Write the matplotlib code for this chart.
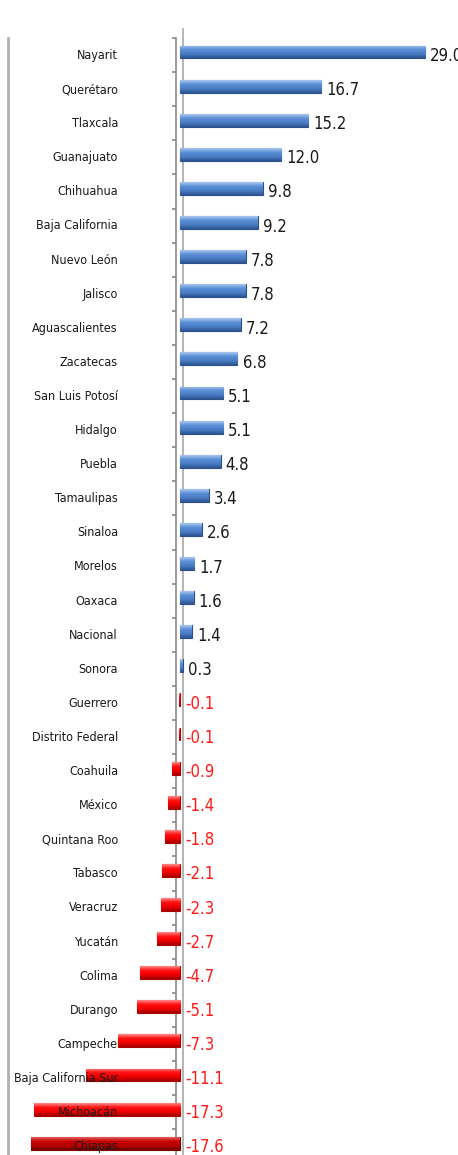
import matplotlib.pyplot as plt
import numpy as np
from matplotlib.colors import LinearSegmentedColormap

estados = ["Nayarit", "Querétaro", "Tlaxcala", "Guanajuato", "Chihuahua",
           "Baja California", "Nuevo León", "Jalisco", "Aguascalientes",
           "Zacatecas", "San Luis Potosí", "Hidalgo", "Puebla", "Tamaulipas",
           "Sinaloa", "Morelos", "Oaxaca", "Nacional", "Sonora", "Guerrero",
           "Distrito Federal", "Coahuila", "México", "Quintana Roo", "Tabasco",
           "Veracruz", "Yucatán", "Colima", "Durango", "Campeche",
           "Baja California Sur", "Michoacán", "Chiapas"]
valores = [29.0, 16.7, 15.2, 12.0, 9.8, 9.2, 7.8, 7.8, 7.2, 6.8, 5.1, 5.1,
           4.8, 3.4, 2.6, 1.7, 1.6, 1.4, 0.3, -0.1, -0.1, -0.9, -1.4, -1.8,
           -2.1, -2.3, -2.7, -4.7, -5.1, -7.3, -11.1, -17.3, -17.6]

plt.rcParams['font.family'] = ['DejaVu Sans']
plt.rcParams['font.stretch'] = 'condensed'

W, H = 458, 1155
fig = plt.figure(figsize=(W / 100, H / 100), dpi=100)
ax = fig.add_axes([0, 0, 1, 1])

# pixel -> data helpers (zero at x=180 px, 8.45 px per unit, rows every 34.1 px)
x0px, kx = 180.0, 8.45
y0px, ky = 52.0, 34.1
def px_x(p):
    return (p - x0px) / kx
def px_y(p):
    return (p - y0px) / ky

azul = LinearSegmentedColormap.from_list("azul", ["#a9c6ee", "#5b8fd6", "#4a7cc4", "#2d5592"])
rojo = LinearSegmentedColormap.from_list("rojo", ["#ff8a8a", "#ff1010", "#f00000", "#a00000"])
rojo2 = LinearSegmentedColormap.from_list("rojo2", ["#e06060", "#c80000", "#b80000", "#700000"])
grad = np.linspace(0, 1, 64).reshape(-1, 1)

y = np.arange(len(estados))
alto = 0.38
bars = ax.barh(y, valores, height=alto, color="none", zorder=3)
for i, (b, v) in enumerate(zip(bars, valores)):
    if v >= 0:
        cm, ec = azul, "#2b4f86"
    elif estados[i] == "Chiapas":
        cm, ec = rojo2, "#7a0000"
    else:
        cm, ec = rojo, "#b00000"
    left = min(0, v)
    right = max(0, v)
    im = ax.imshow(grad, cmap=cm, aspect="auto", origin="upper",
                   extent=(left, right, i + alto / 2, i - alto / 2), zorder=3)
    im.set_clip_path(b)
    b.set_edgecolor(ec)
    b.set_linewidth(0.8)

    if v >= 0:
        ax.text(v + 0.6, i + 0.12, f"{v:.1f}", ha="left", va="center",
                fontsize=12, color="#1a1a1a", zorder=5)
    else:
        ax.text(0.6, i + 0.12, f"{v:.1f}", ha="left", va="center",
                fontsize=12, color="#ff1a1a", zorder=5)
    ax.text(px_x(118), i + 0.1, estados[i], ha="right", va="center",
            fontsize=9, color="#1a1a1a", zorder=6)

ax.set_xlim(px_x(0), px_x(W))
ax.set_ylim(px_y(H), px_y(0))

# lines of the chart frame
ax.plot([px_x(8), px_x(8)], [px_y(38), px_y(H)], color="#b0b0b0", lw=2, zorder=1)
ax.plot([px_x(183), px_x(183)], [px_y(29), px_y(H)], color="#a8a8a8", lw=1.2, zorder=2)
ax.plot([px_x(175.5), px_x(175.5)], [px_y(38), px_y(H)], color="#8a8a8a", lw=1.2, zorder=2)
ticks = np.arange(len(estados) + 1) - 0.41
ax.hlines(ticks, px_x(171.5), px_x(175.5), color="#8a8a8a", lw=1.2, zorder=2)

ax.axis("off")
fig.savefig("out.png", dpi=100)
